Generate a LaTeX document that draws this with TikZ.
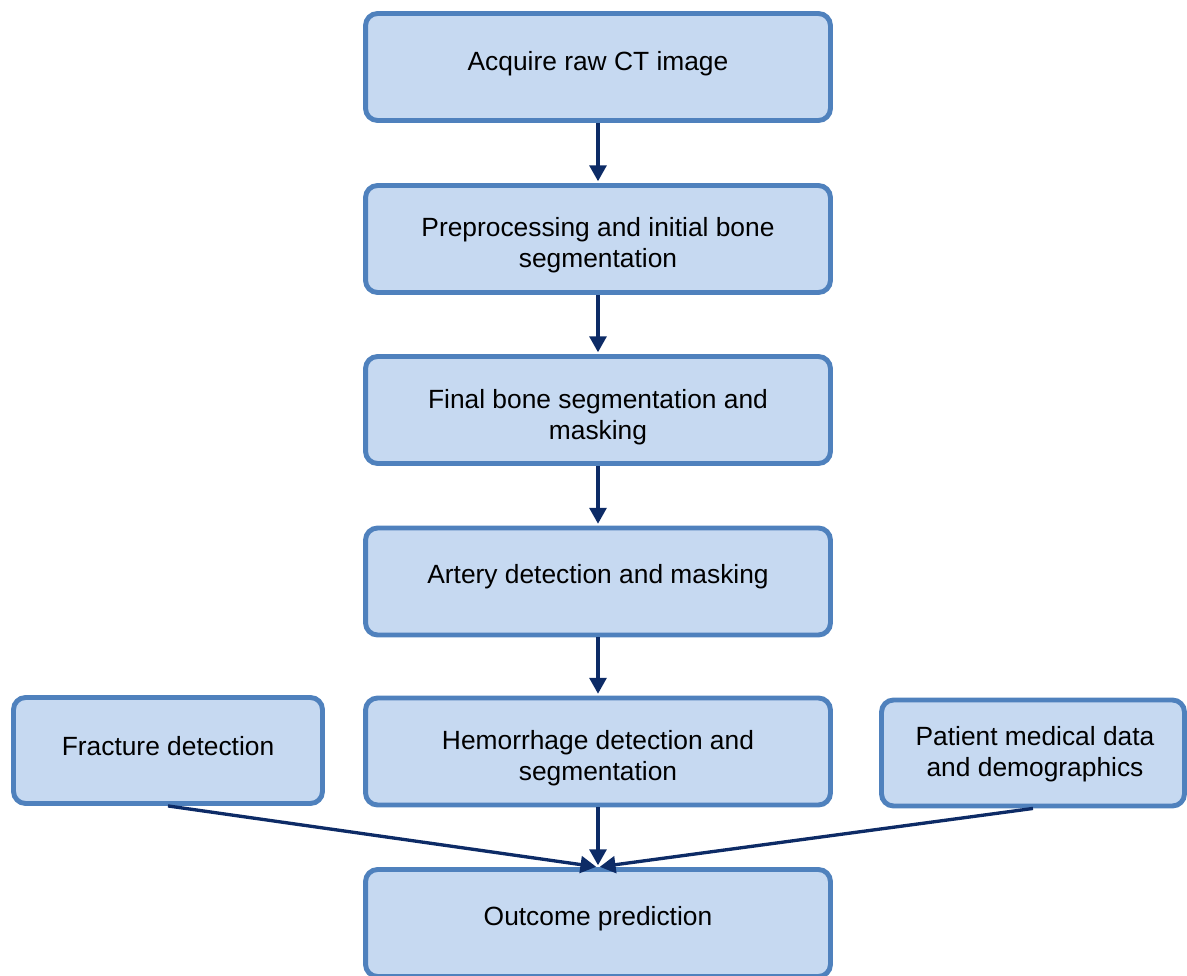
\documentclass[tikz,border=0pt]{standalone}
\usepackage{fontspec}
\setmainfont{Liberation Sans}
\usetikzlibrary{arrows.meta}
\definecolor{boxfill}{HTML}{C6D9F1}
\definecolor{boxline}{HTML}{4F81BD}
\definecolor{flow}{HTML}{0D2B66}
\begin{document}
\begin{tikzpicture}[x=0.02cm,y=-0.02cm,
  stepbox/.style={draw=boxline,fill=boxfill,line width=2.8pt,rounded corners=0.24cm,
    minimum width=9.3cm,minimum height=2.14cm,inner sep=0pt},
  sidebox/.style={stepbox,minimum height=2.12cm},
  caption/.style={font=\fontsize{15}{17.5}\selectfont,align=center,inner sep=0pt},
  flowarrow/.style={draw=flow,line width=1.9pt,-{Triangle[length=9pt,width=9.5pt]},shorten >=1pt}]
\useasboundingbox (0,0) rectangle (1187,976);

% main chain of steps
\node[stepbox] (b1) at (598,67) {};
\node[stepbox] (b2) at (598,239) {};
\node[stepbox] (b3) at (598,410) {};
\node[stepbox] (b4) at (598,581.5) {};
\node[stepbox] (b5) at (598,751.5) {};
\node[stepbox] (b6) at (598,923) {};

% side inputs
\node[sidebox,minimum width=6.18cm] (fr) at (168,750.5) {};
\node[sidebox,minimum width=6.06cm] (pt) at (1033,753) {};

% captions
\node[caption] (t1) at (598,64) {Acquire raw CT image};
\node[caption] (t2) at (598,245) {Preprocessing and initial bone\\segmentation};
\node[caption] (t3) at (598,417) {Final bone segmentation and\\masking};
\node[caption] (t4) at (598,577) {Artery detection and masking};
\node[caption] (t5) at (598,758) {Hemorrhage detection and\\segmentation};
\node[caption] (t6) at (598,919) {Outcome prediction};
\node[caption] (tf) at (168,746) {Fracture detection};
\node[caption] (tp) at (1035,754.5) {Patient medical data\\and demographics};

% connectors
\draw[flowarrow] (b1.south) -- (b2.north);
\draw[flowarrow] (b2.south) -- (b3.north);
\draw[flowarrow] (b3.south) -- (b4.north);
\draw[flowarrow] (b4.south) -- (b5.north);
\draw[flowarrow] (b5.south) -- (b6.north);
\draw[flowarrow] (fr.south) -- (b6.north);
\draw[flowarrow] (pt.south) -- (b6.north);
\end{tikzpicture}
\end{document}
